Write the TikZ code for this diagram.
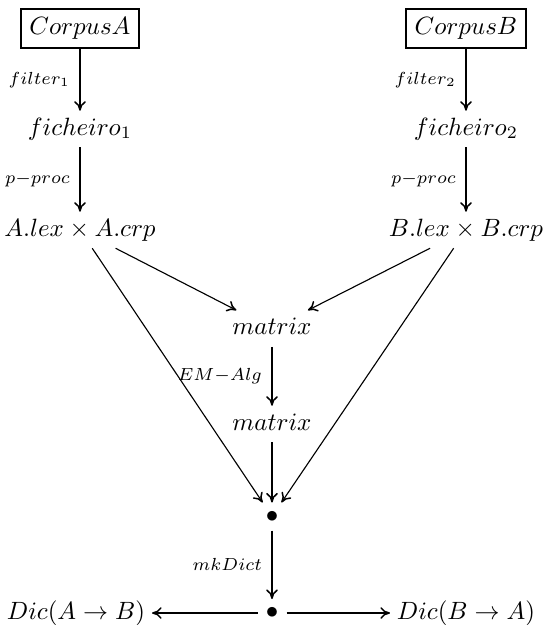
\documentclass[tikz,border=0pt]{standalone}
\usetikzlibrary{arrows.meta}
\begin{document}
\begin{tikzpicture}[x=0.4pt,y=-0.4pt,
  obj/.style={inner sep=2.6pt, text height=7pt, text depth=2pt},
  framed/.style={obj, draw, line width=0.8pt, inner sep=3.3pt},
  dot/.style={inner sep=0pt, minimum width=11.2pt, minimum height=10.8pt},
  tip/.style={-{Computer Modern Rightarrow[length=3.8pt,width=4.6pt,line width=0.6pt]}},
  straight/.style={tip, line width=0.9pt},
  slant/.style={tip, line width=0.45pt},
  lbl/.style={midway, left, inner sep=0pt, xshift=-3.6pt}]
\useasboundingbox (0,0) rectangle (543,625);

% the two corpora and their processing chains
\node[framed] (cA) at (80,28.5)  {$CorpusA$};
\node[framed] (cB) at (466,28.5) {$CorpusB$};
\node[obj] (f1) at (80,129)  {$ficheiro_1$};
\node[obj] (f2) at (466,129) {$ficheiro_2$};
\node[obj] (la) at (80,230)  {$A.lex \times A.crp$};
\node[obj] (lb) at (466,230) {$B.lex \times B.crp$};

% alignment matrices
\node[obj] (m1) at (272,328.5) {$matrix$};
\node[obj] (m2) at (272,424)   {$matrix$};

% junction points
\node[dot] (d1) at (272,516.5) {$\bullet$};
\node[dot] (d2) at (272,613)   {$\bullet$};

% resulting dictionaries
\node[obj] (dab) at (76,613)  {$Dic(A \to B)$};
\node[obj] (dba) at (466,613) {$Dic(B \to A)$};

% vertical steps
\draw[straight] (cA) -- node[lbl] {$\scriptstyle filter_1$} (f1);
\draw[straight] (f1) -- node[lbl] {$\scriptstyle p-proc$} (la);
\draw[straight] (cB) -- node[lbl] {$\scriptstyle filter_2$} (f2);
\draw[straight] (f2) -- node[lbl] {$\scriptstyle p-proc$} (lb);
\draw[straight] (m1) -- node[lbl] {$\scriptstyle EM-Alg$} (m2);
\draw[straight] (m2) -- (d1);
\draw[straight] (d1) -- node[lbl] {$\scriptstyle mkDict$} (d2);

% slanted inputs
\draw[slant] (la) -- (m1);
\draw[slant] (lb) -- (m1);
\draw[slant] (la) -- (d1);
\draw[slant] (lb) -- (d1);

% outputs
\draw[straight] (d2) -- (dab);
\draw[straight] (d2) -- (dba);
\end{tikzpicture}
\end{document}
